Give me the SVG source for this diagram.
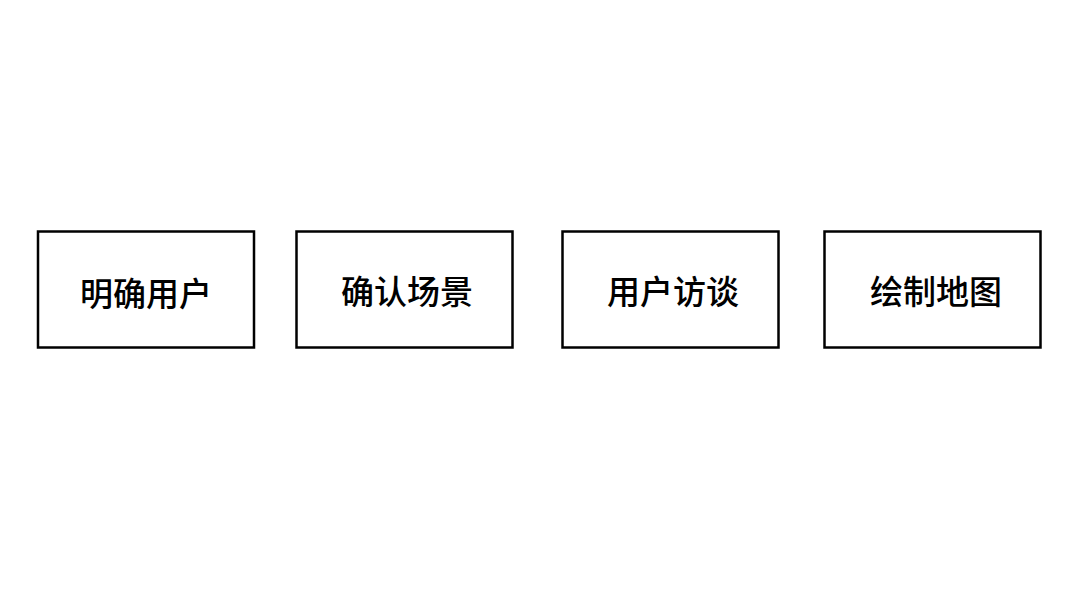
<svg xmlns="http://www.w3.org/2000/svg" width="1080" height="608" viewBox="0 0 1080 608">
<style>
.box{fill:#fff;stroke:#000;stroke-width:2.5}
.lbl{font-family:"Noto Sans CJK SC","Noto Sans",sans-serif;font-size:33px;font-weight:500;fill:#000;text-anchor:middle;dominant-baseline:central}
</style>
<rect width="1080" height="608" fill="#fff"/>
<g id="n1"><rect class="box" x="38" y="231.5" width="216" height="116"/><text class="lbl" x="146" y="292">明确用户</text></g>
<g id="n2"><rect class="box" x="296.5" y="231.5" width="216" height="116"/><text class="lbl" x="407" y="290">确认场景</text></g>
<g id="n3"><rect class="box" x="562.5" y="231.5" width="216" height="116"/><text class="lbl" x="673" y="290">用户访谈</text></g>
<g id="n4"><rect class="box" x="824.5" y="231.5" width="216" height="116"/><text class="lbl" x="936" y="290">绘制地图</text></g>
<g id="connectors"></g>
</svg>
